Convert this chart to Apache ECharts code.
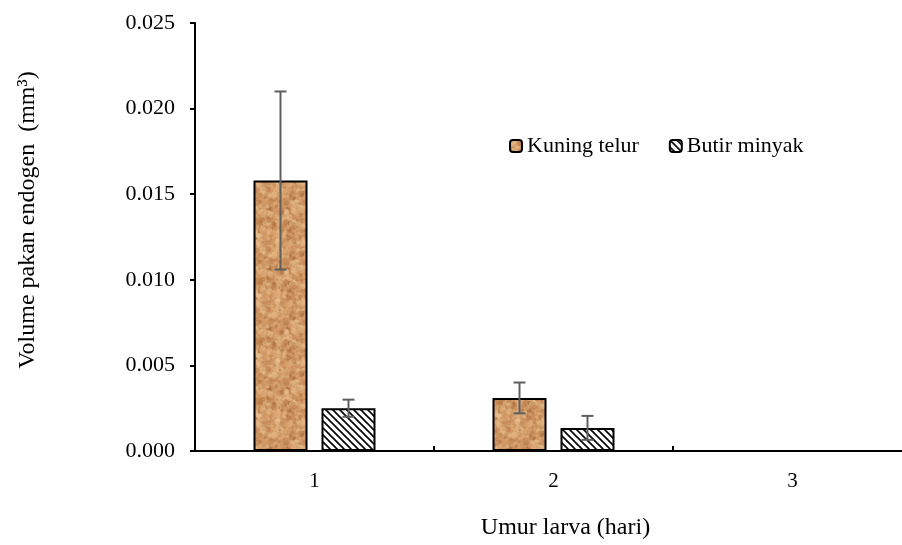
<!DOCTYPE html>
<html>
<head>
<meta charset="utf-8">
<script src="https://cdn.jsdelivr.net/npm/echarts@6/dist/echarts.min.js"></script>
<style>html,body{margin:0;padding:0;background:#fff;overflow:hidden;width:902px;height:545px;}#c{width:912px;height:545px;}</style>
</head>
<body>
<div id="c"></div>
<script>
// ---- data ----
var categories = ['1', '2', '3'];
var kuningTelur = [0.0158, 0.0031, 0];
var kuningTelurErr = [0.0052, 0.0009, 0];
var butirMinyak = [0.0025, 0.00135, 0];
var butirMinyakErr = [0.0005, 0.0007, 0];
var yTicks = [0, 0.005, 0.010, 0.015, 0.020, 0.025];
var seriesNames = ['Kuning telur', 'Butir minyak'];

// ---- patterns ----
function makeTexture() {
  var c = document.createElement('canvas');
  c.width = 60; c.height = 60;
  var g = c.getContext('2d');
  g.fillStyle = '#cf9763';
  g.fillRect(0, 0, 60, 60);
  var s = 98765;
  function r() { s = (s * 1103515245 + 12345) % 2147483648; return s / 2147483648; }
  var cols = ['#b87c49', '#e2b17e', '#c48955', '#e8bb89', '#a86b3c', '#d9a572', '#eac395'];
  for (var i = 0; i < 520; i++) {
    var x = r() * 60, y = r() * 60, rad = 1.0 + r() * 2.0;
    g.fillStyle = cols[Math.floor(r() * cols.length)];
    g.globalAlpha = 0.35 + r() * 0.3;
    for (var dx = -60; dx <= 60; dx += 60) for (var dy = -60; dy <= 60; dy += 60) {
      g.beginPath(); g.arc(x + dx, y + dy, rad, 0, Math.PI * 2); g.fill();
    }
  }
  g.globalAlpha = 1;
  return c;
}
function makeHatch() {
  var c = document.createElement('canvas');
  c.width = 7; c.height = 7;
  var g = c.getContext('2d');
  g.fillStyle = '#ffffff';
  g.fillRect(0, 0, 7, 7);
  g.strokeStyle = '#000000';
  g.lineWidth = 1.6;
  g.beginPath();
  for (var k = -7; k <= 7; k += 7) { g.moveTo(k - 1, -1); g.lineTo(k + 8, 8); }
  g.stroke();
  return c;
}
var tex = { image: makeTexture(), repeat: 'repeat' };
var hatch = { image: makeHatch(), repeat: 'repeat' };

var FONT = '"Liberation Serif", "Times New Roman", serif';
var BAR_W = 54, BAR_GAP = 14;

function errSeries(vals, errs, side) {
  var data = categories.map(function (c, i) { return [i, vals[i], errs[i]]; });
  return {
    type: 'custom',
    z: 10,
    silent: true,
    data: data,
    renderItem: function (params, api) {
      var e = api.value(2);
      if (!e) return null;
      var i = api.value(0), v = api.value(1);
      var off = side * (BAR_W / 2 + BAR_GAP / 2);
      var top = api.coord([i, v + e]);
      var bot = api.coord([i, v - e]);
      var x = top[0] + off;
      var cap = 6;
      var st = { stroke: '#5f5f5f', lineWidth: 2 };
      return { type: 'group', children: [
        { type: 'line', shape: { x1: x, y1: top[1], x2: x, y2: bot[1] }, style: st },
        { type: 'line', shape: { x1: x - cap, y1: top[1], x2: x + cap, y2: top[1] }, style: st },
        { type: 'line', shape: { x1: x - cap, y1: bot[1], x2: x + cap, y2: bot[1] }, style: st }
      ]};
    }
  };
}

var chart = echarts.init(document.getElementById('c'), null, { renderer: 'canvas' });
chart.setOption({
  animation: false,
  backgroundColor: '#ffffff',
  textStyle: { fontFamily: FONT, color: '#000' },
  grid: { left: 195, top: 23, bottom: 94, right: 0, containLabel: false },
  legend: {
    data: seriesNames,
    left: 504, top: 130,
    itemWidth: 12, itemHeight: 12, itemGap: 30,
    textStyle: { fontFamily: FONT, fontSize: 22, color: '#000' }
  },
  xAxis: {
    type: 'category',
    data: categories,
    axisLine: { lineStyle: { color: '#000', width: 2 } },
    axisTick: { show: true, inside: true, length: 5, lineStyle: { color: '#000', width: 2 } },
    axisLabel: { fontFamily: FONT, fontSize: 21, color: '#000', margin: 20 },
    name: 'Umur larva (hari)',
    nameLocation: 'middle',
    nameGap: 65,
    nameTextStyle: { fontFamily: FONT, fontSize: 24, color: '#000', padding: [0, 0, 0, 24] }
  },
  yAxis: {
    type: 'value',
    min: 0, max: 0.025, interval: 0.005,
    splitLine: { show: false },
    axisLine: { show: true, lineStyle: { color: '#000', width: 2 } },
    axisTick: { show: true, length: 5, lineStyle: { color: '#000', width: 2 } },
    axisLabel: {
      fontFamily: FONT, fontSize: 22, color: '#000', margin: 20,
      formatter: function (v) { return v.toFixed(3); }
    },
    name: 'Volume pakan endogen  (mm³)',
    nameLocation: 'middle',
    nameRotate: 90,
    nameGap: 155,
    nameTextStyle: { fontFamily: FONT, fontSize: 24, color: '#000', padding: [0, 0, 0, 34] }
  },
  series: [
    {
      name: seriesNames[0], type: 'bar', data: kuningTelur,
      barWidth: BAR_W, barGap: (BAR_GAP / BAR_W * 100) + '%',
      itemStyle: { color: tex, borderColor: '#000', borderWidth: 2 }
    },
    {
      name: seriesNames[1], type: 'bar', data: butirMinyak,
      barWidth: BAR_W,
      itemStyle: { color: hatch, borderColor: '#000', borderWidth: 2 }
    },
    errSeries(kuningTelur, kuningTelurErr, -1),
    errSeries(butirMinyak, butirMinyakErr, 1)
  ]
});
</script>
</body>
</html>
